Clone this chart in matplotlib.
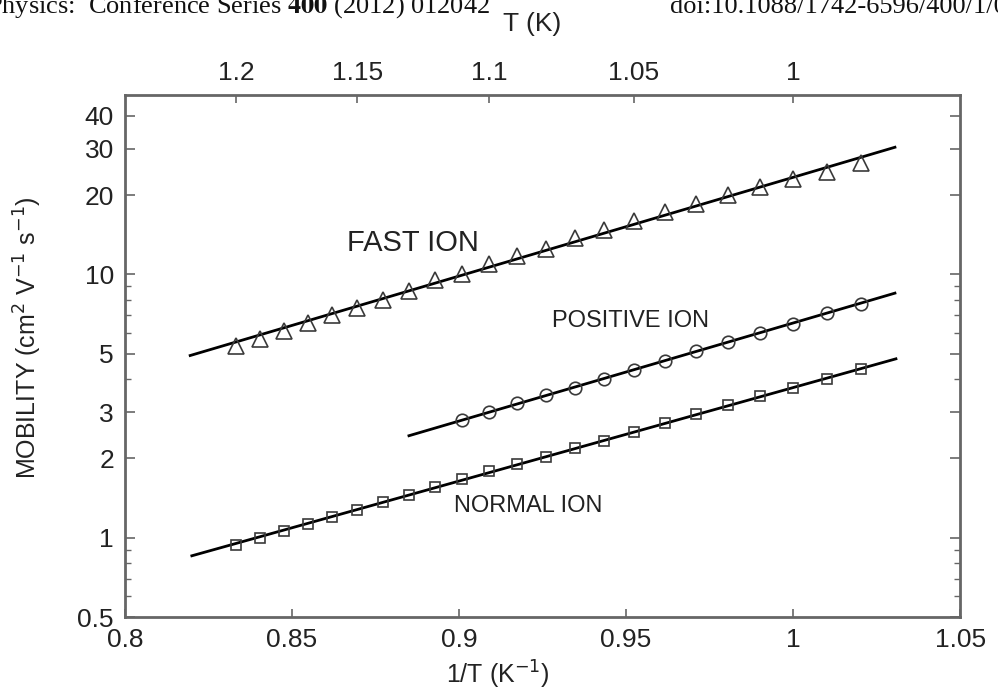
import matplotlib
matplotlib.use("Agg")
import matplotlib.pyplot as plt
from matplotlib.ticker import FixedLocator, NullFormatter, NullLocator, LogLocator
import numpy as np

plt.rcParams['font.family'] = ['Liberation Sans', 'DejaVu Sans']

# Temperatures (K) of the measured points
temp_fast = [1.20, 1.19, 1.18, 1.17, 1.16, 1.15, 1.14, 1.13, 1.12, 1.11, 1.10, 1.09,
             1.08, 1.07, 1.06, 1.05, 1.04, 1.03, 1.02, 1.01, 1.00, 0.99, 0.98]
mob_fast = [5.37, 5.69, 6.12, 6.53, 7.04, 7.47, 8.01, 8.64, 9.49, 10.0, 10.98, 11.7,
            12.5, 13.7, 14.7, 16.0, 17.2, 18.5, 20.0, 21.4, 23.0, 24.4, 26.4]

temp_pos = [1.11, 1.10, 1.09, 1.08, 1.07, 1.06, 1.05, 1.04, 1.03, 1.02, 1.01, 1.00,
            0.99, 0.98]
mob_pos = [2.81, 2.99, 3.24, 3.49, 3.71, 4.01, 4.34, 4.71, 5.10, 5.53, 6.00, 6.49,
           7.15, 7.74]

temp_norm = [1.20, 1.19, 1.18, 1.17, 1.16, 1.15, 1.14, 1.13, 1.12, 1.11, 1.10, 1.09,
             1.08, 1.07, 1.06, 1.05, 1.04, 1.03, 1.02, 1.01, 1.00, 0.99, 0.98]
mob_norm = [0.94, 1.00, 1.057, 1.127, 1.20, 1.274, 1.362, 1.457, 1.563, 1.672, 1.787, 1.906,
            2.03, 2.19, 2.34, 2.51, 2.72, 2.94, 3.18, 3.44, 3.71, 4.01, 4.38]

# fitted straight lines (end points: 1/T, mobility)
fit_fast_x = [0.8195, 1.0305]
fit_fast_y = [4.92, 30.4]
fit_pos_x = [0.885, 1.0305]
fit_pos_y = [2.44, 8.49]
fit_norm_x = [0.82, 1.0308]
fit_norm_y = [0.854, 4.78]

top_ticks = [1.2, 1.15, 1.1, 1.05, 1]
top_labels = ['1.2', '1.15', '1.1', '1.05', '1']
y_ticks = [0.5, 1, 2, 3, 5, 10, 20, 30, 40]
y_labels = ['0.5', '1', '2', '3', '5', '10', '20', '30', '40']
x_ticks = [0.8, 0.85, 0.9, 0.95, 1, 1.05]
x_labels = ['0.8', '0.85', '0.9', '0.95', '1', '1.05']

fig = plt.figure(figsize=(9.98, 6.95), dpi=100)
ax = fig.add_axes([0.1253, 0.1122, 0.8367, 0.7511])

frame = '#666666'
txt = '#222222'
mk = dict(linestyle='none', markerfacecolor='none', markeredgecolor='#3a3a3a',
          markeredgewidth=1.2)

ax.plot(fit_fast_x, fit_fast_y, color='black', lw=2.0)
ax.plot(fit_pos_x, fit_pos_y, color='black', lw=2.0)
ax.plot(fit_norm_x, fit_norm_y, color='black', lw=2.0)

ax.plot(1 / np.array(temp_fast), mob_fast, marker='^', markersize=11, **mk)
ax.plot(1 / np.array(temp_pos), mob_pos, marker='o', markersize=9, **mk)
ax.plot(1 / np.array(temp_norm), mob_norm, marker='s', markersize=7.5, **mk)

ax.set_yscale('log')
ax.set_xlim(0.8, 1.05)
ax.set_ylim(0.5, 48)

ax.yaxis.set_major_locator(FixedLocator(y_ticks))
ax.set_yticklabels(y_labels)
ax.yaxis.set_minor_locator(LogLocator(base=10, subs=np.arange(1, 10)))
ax.yaxis.set_minor_formatter(NullFormatter())
ax.set_xticks(x_ticks)
ax.set_xticklabels(x_labels)
ax.xaxis.set_minor_locator(NullLocator())

ax.tick_params(axis='both', which='both', direction='in', colors=frame,
               labelcolor=txt, labelsize=19)
ax.tick_params(axis='y', which='major', length=7, width=1.2, right=True, pad=8)
ax.tick_params(axis='y', which='minor', length=4, width=1.0, right=True)
ax.tick_params(axis='x', which='major', length=6, width=1.2, pad=8)
for s in ax.spines.values():
    s.set_color(frame)
    s.set_linewidth(2.0)

sec = ax.secondary_xaxis('top', functions=(lambda x: 1 / x, lambda t: 1 / t))
sec.set_xticks(top_ticks)
sec.set_xticklabels(top_labels)
sec.xaxis.set_minor_locator(NullLocator())
sec.tick_params(axis='x', direction='in', length=6, width=1.2, colors=frame,
                labelcolor=txt, labelsize=19, pad=7)
sec.spines['top'].set_visible(False)
ax.text(0.487, 1.136, 'T (K)', transform=ax.transAxes, fontsize=19, color=txt,
        ha='center', va='center')

ax.set_xlabel('1/T (K$^{-1}$)', fontsize=18, color=txt)
ax.xaxis.set_label_coords(0.447, -0.08)
ax.set_ylabel('MOBILITY (cm$^{2}$ V$^{-1}$ s$^{-1}$)', fontsize=18, color=txt)
ax.yaxis.set_label_coords(-0.097, 0.536)

ax.text(0.8863, 13.2, 'FAST ION', fontsize=21, ha='center', va='center', color=txt)
ax.text(0.9512, 6.63, 'POSITIVE ION', fontsize=17, ha='center', va='center', color=txt)
ax.text(0.9207, 1.32, 'NORMAL ION', fontsize=17, ha='center', va='center', color=txt)

# page header of the cropped scan
fig.text(-0.013, 1 - 13 / 695, 'Physics:  Conference Series $\\mathbf{400}$ (2012) 012042',
         family='Liberation Serif', fontsize=19, ha='left', va='baseline', color='#111111',
         math_fontfamily='stix')
fig.text(0.671, 1 - 13 / 695, 'doi:10.1088/1742-6596/400/1/012042',
         family='Liberation Serif', fontsize=19, ha='left', va='baseline', color='#111111')

fig.savefig('out.png', dpi=100)
